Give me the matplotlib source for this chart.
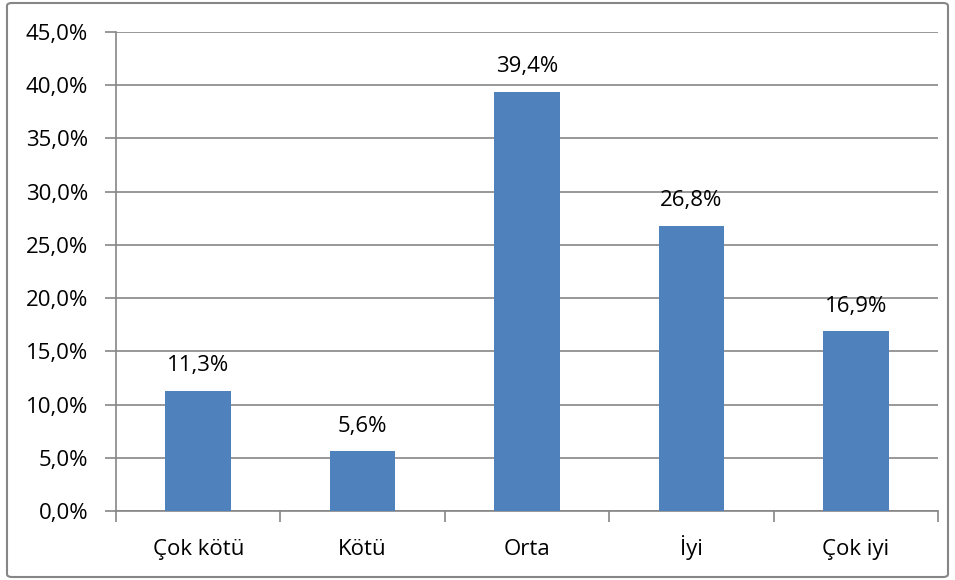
import matplotlib
matplotlib.use("Agg")
import matplotlib.pyplot as plt
from matplotlib.patches import FancyBboxPatch
from matplotlib.ticker import FixedLocator, NullFormatter

categories = ["Çok kötü", "Kötü", "Orta", "İyi", "Çok iyi"]
values = [11.3, 5.6, 39.4, 26.8, 16.9]
yticks = [0, 5, 10, 15, 20, 25, 30, 35, 40, 45]

plt.rcParams['font.family'] = ['Open Sans', 'DejaVu Sans']
FS = 16

W, H = 955, 580
fig = plt.figure(figsize=(W / 100, H / 100), dpi=100)
ax = fig.add_axes([116 / W, 1 - 511 / H, (938 - 116) / W, (511 - 32) / H])

gray = "#868686"
x = list(range(len(categories)))
ax.bar(x, values, width=0.4, color="#4F81BD", zorder=3)
for xi, v in zip(x, values):
    ax.annotate(f"{v:.1f}%".replace(".", ","), (xi, v), xytext=(0, 14),
                textcoords="offset points", ha="center", va="baseline", fontsize=FS)

ax.set_xlim(-0.5, len(categories) - 0.5)
ax.set_ylim(0, 45)
ax.set_yticks(yticks)
ax.set_yticklabels([f"{t:.1f}%".replace(".", ",") for t in yticks], fontsize=FS)
ax.yaxis.grid(True, color=gray, linewidth=1.2, zorder=0)
ax.set_axisbelow(True)

ax.xaxis.set_major_locator(FixedLocator([i - 0.5 for i in range(len(categories) + 1)]))
ax.xaxis.set_major_formatter(NullFormatter())
ax.xaxis.set_minor_locator(FixedLocator(x))
ax.set_xticklabels(categories, minor=True, fontsize=FS)
for lbl in ax.get_xticklabels(minor=True):
    lbl.set_verticalalignment("baseline")
ax.tick_params(axis="x", which="major", length=8, color=gray, width=1.2, direction="out")
ax.tick_params(axis="x", which="minor", length=0, pad=31.5)
ax.tick_params(axis="y", length=8, color=gray, width=1.2, pad=12)

for s in ["top", "right"]:
    ax.spines[s].set_visible(False)
for s in ["left", "bottom"]:
    ax.spines[s].set_color(gray)
    ax.spines[s].set_linewidth(1.2)

border = FancyBboxPatch((7 / W, 3 / H), (948 - 7) / W, (577 - 3) / H,
                        boxstyle="round,pad=0,rounding_size=0.005",
                        transform=fig.transFigure, fill=False,
                        edgecolor=gray, linewidth=1.5)
fig.patches.append(border)

fig.savefig("out.png", dpi=100)
